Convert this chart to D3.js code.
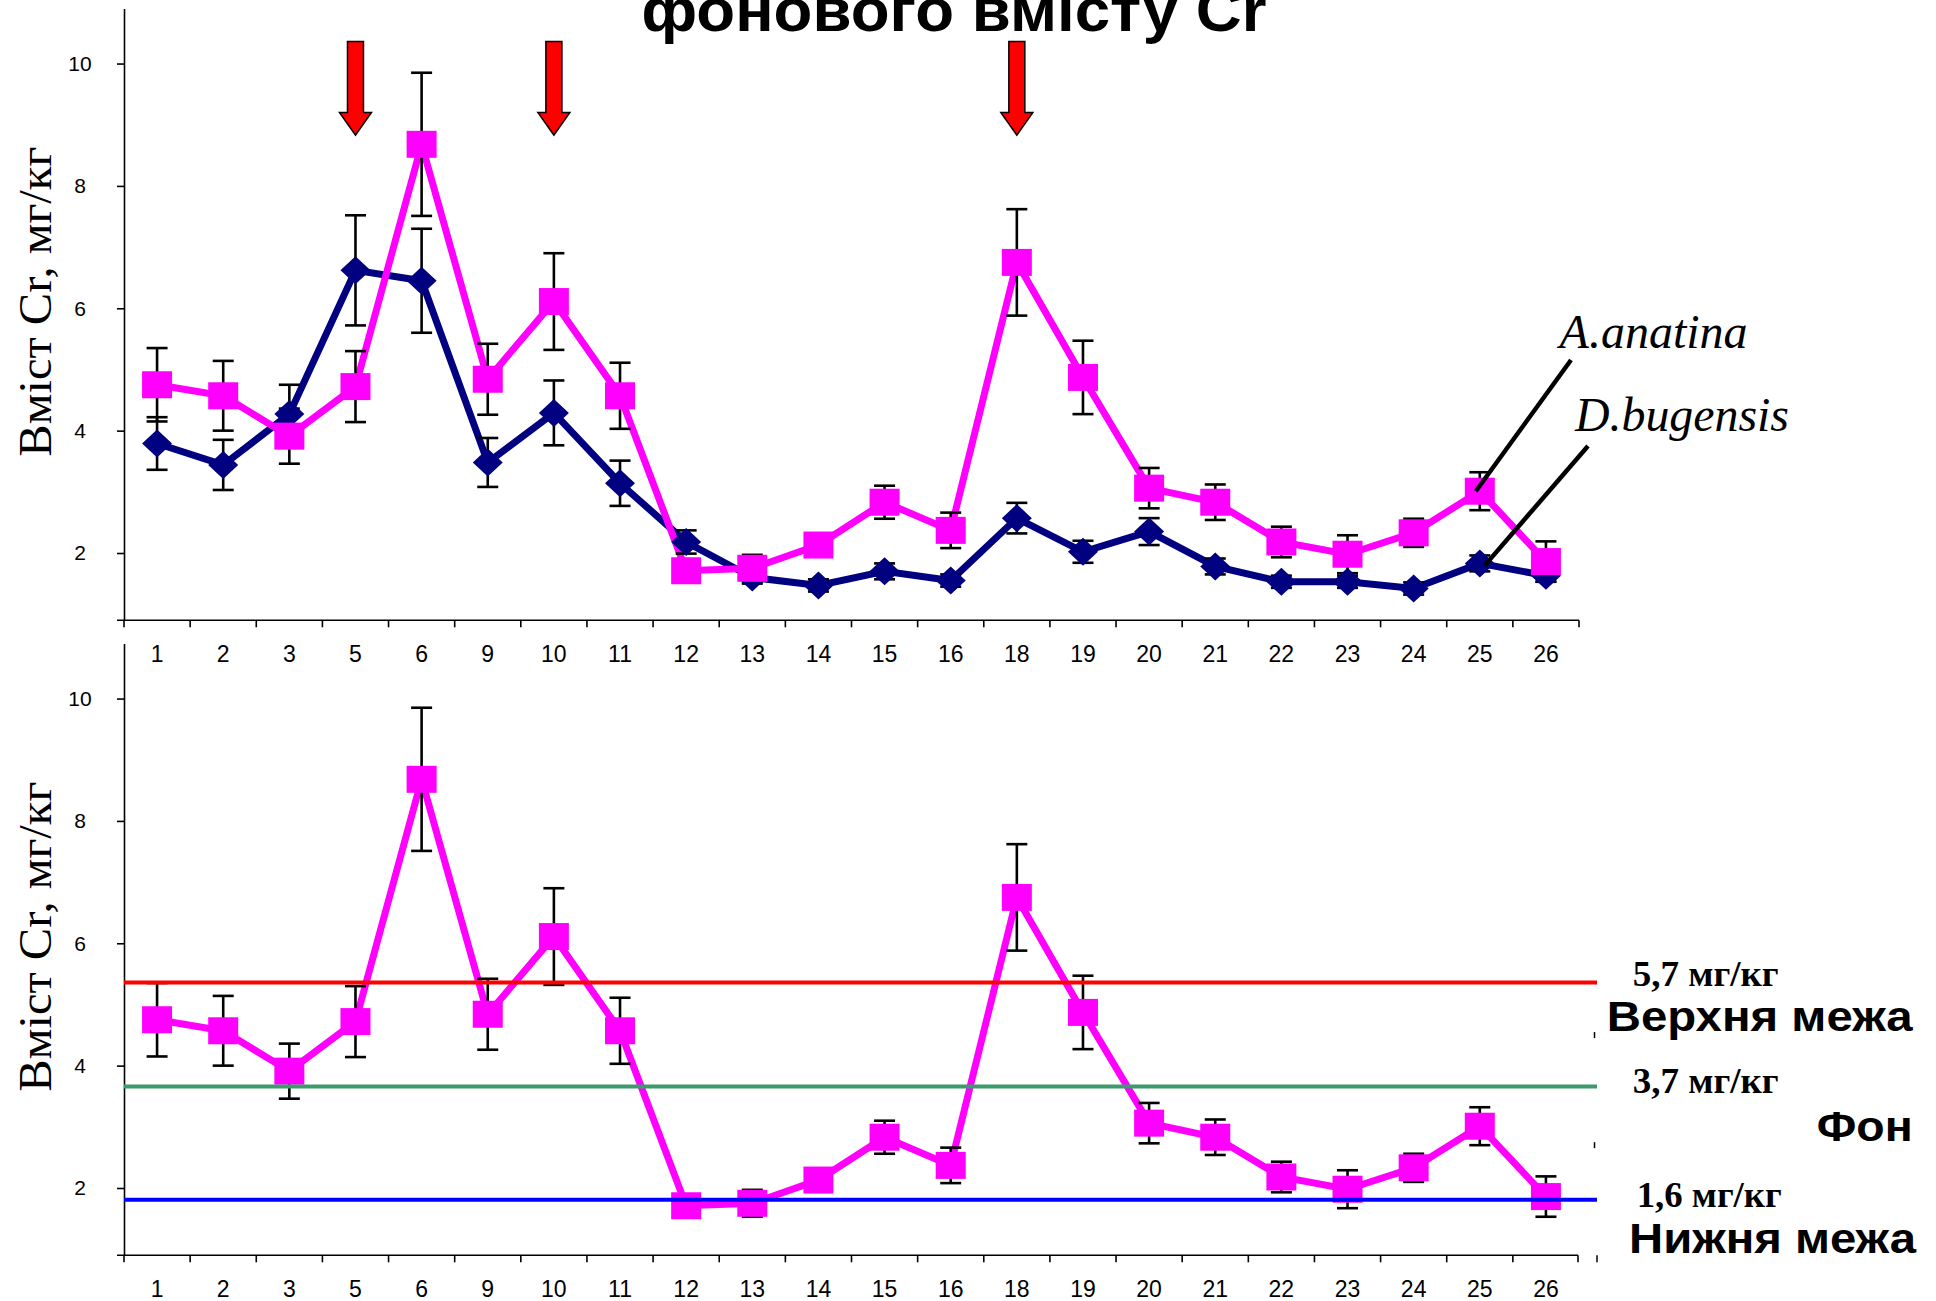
<!DOCTYPE html>
<html>
<head>
<meta charset="utf-8">
<script src="https://cdn.jsdelivr.net/npm/d3@7"></script>
<style>
  html, body { margin: 0; padding: 0; background: #fff; }
  svg { display: block; }
</style>
</head>
<body>
<script>
// ---------- DATA ----------
const categories = ["1","2","3","5","6","9","10","11","12","13","14","15","16","18","19","20","21","22","23","24","25","26"];
const anatina    = [4.75,4.57,3.91,4.72,8.68,4.84,6.11,4.57,1.71,1.75,2.13,2.83,2.37,6.75,4.87,3.06,2.83,2.18,1.98,2.33,3.01,1.86];
const anatinaErr = [0.60,0.57,0.45,0.58,1.17,0.58,0.79,0.54,0.15,0.22,0.15,0.27,0.29,0.87,0.60,0.33,0.29,0.25,0.31,0.23,0.31,0.33];
const bugensis    = [3.79,3.44,4.27,6.62,6.45,3.48,4.29,3.14,2.18,1.60,1.47,1.70,1.55,2.57,2.02,2.35,1.78,1.53,1.53,1.42,1.83,1.63];
const bugensisErr = [0.43,0.41,0.48,0.90,0.85,0.40,0.53,0.37,0.19,0.10,0.10,0.13,0.10,0.25,0.18,0.22,0.13,0.10,0.10,0.10,0.13,0.10];
const yTicks = [2,4,6,8,10];
const arrowCategories = ["5","10","18"];
const levelValues = [5.36, 3.66, 1.81];
const levelColors = ["#ff0000", "#3c9a6c", "#0000ff"];
const levelValueLabels = ["5,7 мг/кг", "3,7 мг/кг", "1,6 мг/кг"];
const levelNames = ["Верхня межа", "Фон", "Нижня межа"];
const titleText = "фонового вмісту Cr";
const yLabelText = "Вміст Cr, мг/кг";
const seriesNames = ["A.anatina", "D.bugensis"];

// ---------- SETUP ----------
const W = 1936, H = 1301;
const svg = d3.select("body").append("svg").attr("width", W).attr("height", H);
svg.append("rect").attr("width", W).attr("height", H).attr("fill", "#fff");

const SANS = "'Liberation Sans', Arial, Helvetica, sans-serif";
const NARROW = "'Liberation Sans Narrow', 'Arial Narrow', 'Liberation Sans', Arial, sans-serif";
const SERIF = "'Liberation Serif', 'Times New Roman', Times, serif";

const x = d3.scaleBand().domain(categories).range([124, 1579]).padding(0);
const bw = x.bandwidth();
const cx = c => x(c) + bw / 2;
const yTop = d3.scaleLinear().domain([0.9, 10.9]).range([620.3, 8.5]);
const yBot = d3.scaleLinear().domain([0.9, 10.9]).range([1255.3, 643.5]);

const A = categories.map((c, i) => ({c, v: anatina[i], e: anatinaErr[i]}));
const D = categories.map((c, i) => ({c, v: bugensis[i], e: bugensisErr[i]}));

function drawAxes(g, y, xEnd) {
  // y axis
  const ya = g.append("g").attr("transform", "translate(124,0)")
    .call(d3.axisLeft(y).tickValues(yTicks).tickSize(7).tickSizeOuter(0));
  ya.select(".domain").attr("stroke", "#000").attr("stroke-width", 1.6);
  ya.selectAll(".tick line").attr("stroke", "#000").attr("stroke-width", 1.6);
  ya.selectAll(".tick text").attr("x", -44).attr("text-anchor", "middle")
    .attr("font-family", SANS).attr("font-size", 21).attr("fill", "#000");
  // x axis
  const y0 = y.range()[0];
  g.append("line").attr("x1", 117).attr("x2", xEnd).attr("y1", y0).attr("y2", y0)
    .attr("stroke", "#000").attr("stroke-width", 1.6);
  const bounds = categories.map(c => x(c)).concat([x.range()[1]]);
  g.selectAll(".xt").data(bounds).enter().append("line")
    .attr("x1", d => Math.min(d, xEnd)).attr("x2", d => Math.min(d, xEnd))
    .attr("y1", y0).attr("y2", y0 + 7)
    .attr("stroke", "#000").attr("stroke-width", 1.6);
  g.selectAll(".xl").data(categories).enter().append("text")
    .attr("x", d => cx(d)).attr("y", y0 + 41.4)
    .attr("text-anchor", "middle").attr("font-family", NARROW).attr("font-size", 23)
    .attr("fill", "#000").text(d => d);
  // y label
  g.append("text")
    .attr("transform", `translate(51,${(y.range()[0] + y.range()[1]) / 2 - 12.7}) rotate(-90)`)
    .attr("text-anchor", "middle").attr("font-family", SERIF).attr("font-size", 47)
    .attr("textLength", 310).attr("lengthAdjust", "spacingAndGlyphs")
    .attr("fill", "#000").text(yLabelText);
}

function drawLine(g, data, y, color) {
  g.append("path").datum(data)
    .attr("d", d3.line().x(d => cx(d.c)).y(d => y(d.v)))
    .attr("fill", "none").attr("stroke", color).attr("stroke-width", 7)
    .attr("stroke-linejoin", "miter");
}
function drawErr(g, data, y) {
  const eg = g.append("g").attr("stroke", "#000").attr("stroke-width", 2.6);
  data.forEach(d => {
    const X = cx(d.c), t = y(d.v + d.e), b = y(d.v - d.e);
    eg.append("line").attr("x1", X).attr("x2", X).attr("y1", t).attr("y2", b);
    eg.append("line").attr("x1", X - 10.5).attr("x2", X + 10.5).attr("y1", t).attr("y2", t);
    eg.append("line").attr("x1", X - 10.5).attr("x2", X + 10.5).attr("y1", b).attr("y2", b);
  });
}
function drawSquares(g, data, y) {
  g.selectAll(null).data(data).enter().append("rect")
    .attr("x", d => cx(d.c) - 15).attr("y", d => y(d.v) - 13.5)
    .attr("width", 30).attr("height", 27).attr("fill", "#ff00ff");
}
function drawDiamonds(g, data, y) {
  g.selectAll(null).data(data).enter().append("path")
    .attr("d", d => {
      const X = cx(d.c), Y = y(d.v);
      return `M${X},${Y - 14}L${X + 15},${Y}L${X},${Y + 14}L${X - 15},${Y}Z`;
    })
    .attr("fill", "#000080");
}

// ---------- TOP CHART ----------
const gt = svg.append("g");
drawAxes(gt, yTop, 1579);
drawLine(gt, D, yTop, "#000080");
drawLine(gt, A, yTop, "#ff00ff");
drawErr(gt, D, yTop);
drawErr(gt, A, yTop);
drawDiamonds(gt, D, yTop);
drawSquares(gt, A, yTop);

// arrows
arrowCategories.forEach(c => {
  const X = cx(c), t = yTop(10.36), h = yTop(9.2), tip = yTop(8.83);
  gt.append("path")
    .attr("d", `M${X - 8},${t}L${X + 8},${t}L${X + 8},${h}L${X + 16},${h}L${X},${tip}L${X - 16},${h}L${X - 8},${h}Z`)
    .attr("fill", "#ff0000").attr("stroke", "#000").attr("stroke-width", 1.5);
});

// series annotations
const i25 = categories.indexOf("25");
gt.append("line").attr("x1", 1571).attr("y1", 360)
  .attr("x2", cx("25") - 4).attr("y2", yTop(anatina[i25]))
  .attr("stroke", "#000").attr("stroke-width", 4.5);
gt.append("line").attr("x1", 1588).attr("y1", 446)
  .attr("x2", cx("25") + 5).attr("y2", yTop(bugensis[i25]) + 2)
  .attr("stroke", "#000").attr("stroke-width", 4.5);
gt.append("text").attr("x", 1559.6).attr("y", 348)
  .attr("font-family", SERIF).attr("font-style", "italic").attr("font-size", 48)
  .attr("textLength", 188).attr("lengthAdjust", "spacingAndGlyphs").text(seriesNames[0]);
gt.append("text").attr("x", 1575).attr("y", 431)
  .attr("font-family", SERIF).attr("font-style", "italic").attr("font-size", 48)
  .attr("textLength", 214).attr("lengthAdjust", "spacingAndGlyphs").text(seriesNames[1]);

// title
svg.append("text").attr("x", 954).attr("y", 31).attr("text-anchor", "middle")
  .attr("font-family", SANS).attr("font-weight", "bold").attr("font-size", 62)
  .attr("textLength", 625).attr("lengthAdjust", "spacingAndGlyphs").text(titleText);

// ---------- BOTTOM CHART ----------
const gb = svg.append("g");
drawAxes(gb, yBot, 1578);
drawLine(gb, A, yBot, "#ff00ff");
drawErr(gb, A, yBot);
drawSquares(gb, A, yBot);

// reference levels
levelValues.forEach((v, i) => {
  gb.append("line").attr("x1", 124).attr("x2", 1597)
    .attr("y1", yBot(v)).attr("y2", yBot(v))
    .attr("stroke", levelColors[i]).attr("stroke-width", 4);
});
const valX = [1632.7, 1632.7, 1636.7], valW = [146, 146, 145];
const valDy = [3.5, 6.7, 7];
levelValueLabels.forEach((t, i) => {
  gb.append("text").attr("x", valX[i]).attr("y", yBot(levelValues[i]) + valDy[i])
    .attr("font-family", SERIF).attr("font-weight", "bold").attr("font-size", 36)
    .attr("textLength", valW[i]).attr("lengthAdjust", "spacingAndGlyphs").text(t);
});
const nameX = [1606.7, 1816.7, 1629], nameW = [306, 96, 287], nameDy = [49, 54.4, 53];
levelNames.forEach((t, i) => {
  gb.append("text").attr("x", nameX[i]).attr("y", yBot(levelValues[i]) + nameDy[i])
    .attr("font-family", SANS).attr("font-weight", "bold").attr("font-size", 43)
    .attr("textLength", nameW[i]).attr("lengthAdjust", "spacingAndGlyphs").text(t);
});
// small secondary-axis marks on the right
[4.5, 2.7].forEach(v => {
  gb.append("line").attr("x1", 1594.5).attr("x2", 1594.5)
    .attr("y1", yBot(v) - 3).attr("y2", yBot(v) + 3)
    .attr("stroke", "#000").attr("stroke-width", 1.5);
});
gb.append("line").attr("x1", 1597).attr("x2", 1597)
  .attr("y1", yBot.range()[0]).attr("y2", yBot.range()[0] + 7)
  .attr("stroke", "#000").attr("stroke-width", 1.5);
</script>
</body>
</html>
